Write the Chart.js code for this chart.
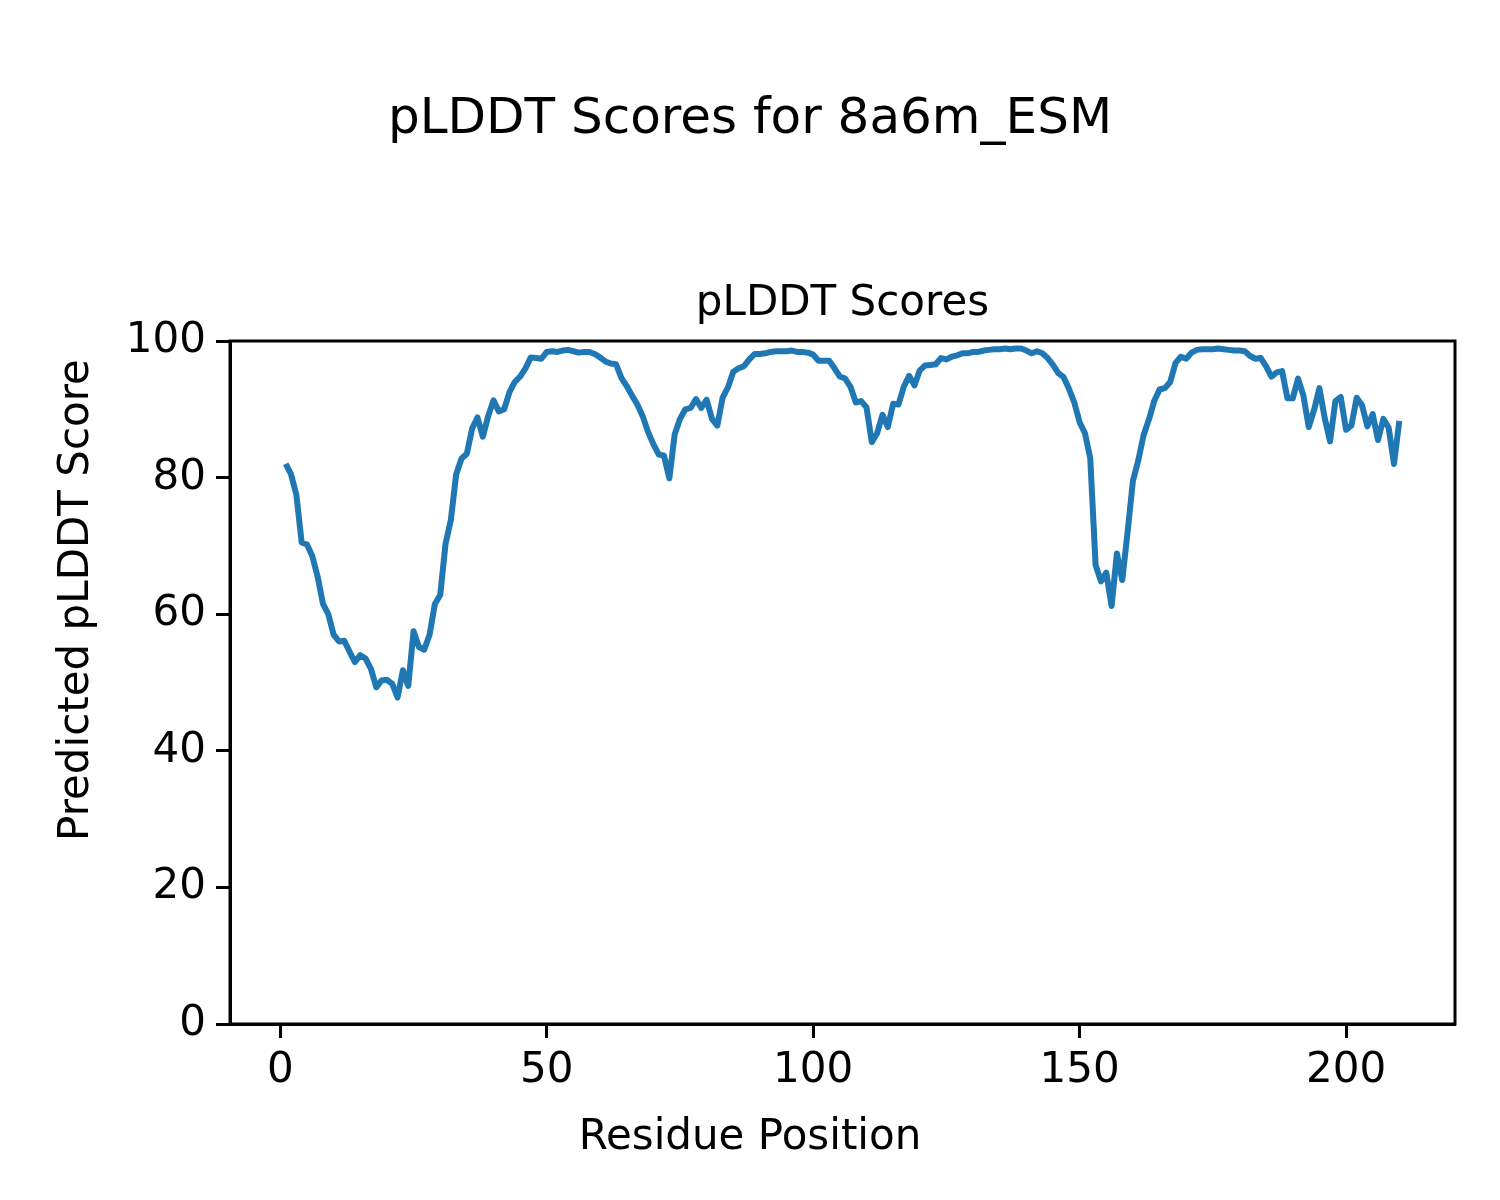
<!DOCTYPE html>
<html>
<head>
<meta charset="utf-8">
<script src="https://cdn.jsdelivr.net/npm/chart.js@4/dist/chart.umd.min.js"></script>
<style>
    html, body { margin: 0; padding: 0; background: #fff; }
    #wrap { width: 1500px; height: 1200px; }
</style>
</head>
<body>
<div id="wrap"><canvas id="chart" width="1500" height="1200"></canvas></div>
<script>
// --------------------------------------------
// pLDDT por resíduo (1..210)
// --------------------------------------------
const scores = [
    82.0, 80.5, 77.5, 70.5, 70.2, 68.5, 65.5, 61.5, 60.0, 57.0,
    56.0, 56.1, 54.5, 53.0, 54.0, 53.5, 52.0, 49.3, 50.3, 50.4,
    49.8, 47.8, 51.8, 49.5, 57.5, 55.2, 54.8, 57.0, 61.5, 62.8,
    70.3, 73.8, 80.5, 82.8, 83.5, 87.2, 88.8, 86.0, 89.0, 91.3,
    89.7, 90.0, 92.5, 94.0, 94.8, 96.0, 97.6, 97.5, 97.4, 98.4,
    98.5, 98.4, 98.6, 98.7, 98.5, 98.3, 98.4, 98.4, 98.1, 97.6,
    97.0, 96.7, 96.6, 94.6, 93.4, 92.0, 90.7, 89.0, 86.7, 84.9,
    83.4, 83.2, 79.9, 86.3, 88.6, 90.0, 90.2, 91.5, 90.2, 91.4,
    88.6, 87.6, 91.7, 93.2, 95.5, 96.0, 96.3, 97.3, 98.1, 98.1,
    98.2, 98.4, 98.5, 98.5, 98.5, 98.6, 98.4, 98.4, 98.3, 98.0,
    97.1, 97.1, 97.1, 96.0, 94.8, 94.5, 93.3, 91.0, 91.2, 90.3,
    85.2, 86.5, 89.2, 87.4, 90.8, 90.7, 93.3, 94.9, 93.5, 95.7,
    96.4, 96.5, 96.6, 97.5, 97.3, 97.7, 97.9, 98.2, 98.2, 98.4,
    98.4, 98.6, 98.7, 98.8, 98.8, 98.9, 98.8, 98.9, 98.9, 98.6,
    98.2, 98.5, 98.2, 97.5, 96.5, 95.3, 94.7, 93.0, 91.0, 88.1,
    86.5, 82.8, 67.2, 64.8, 66.1, 61.2, 68.9, 65.0, 72.0, 79.5,
    82.5, 86.2, 88.5, 91.2, 92.9, 93.1, 94.0, 96.8, 97.7, 97.4,
    98.3, 98.7, 98.8, 98.8, 98.8, 98.9, 98.8, 98.7, 98.6, 98.6,
    98.5, 97.8, 97.4, 97.5, 96.3, 94.8, 95.4, 95.6, 91.6, 91.6,
    94.5, 92.0, 87.4, 89.9, 93.1, 88.7, 85.3, 91.2, 91.8, 87.0,
    87.6, 91.7, 90.6, 87.5, 89.3, 85.5, 88.6, 87.3, 82.0, 88.3
];
const positions = scores.map((_, i) => i + 1);

const xTicks = [0, 50, 100, 150, 200];
const yTicks = [0, 20, 40, 60, 80, 100];

const FONT = 'DejaVu Sans';

// Moldura completa + títulos (estilo matplotlib, rótulos centrados na figura)
const framePlugin = {
    id: 'frame',
    afterDraw(chart) {
        const { ctx, chartArea: a } = chart;
        ctx.save();
        ctx.strokeStyle = '#000';
        ctx.lineWidth = 3;
        ctx.strokeRect(a.left, a.top, a.right - a.left, a.bottom - a.top);

        ctx.fillStyle = '#000';
        ctx.textAlign = 'center';
        ctx.textBaseline = 'middle';
        ctx.font = `42px "${FONT}"`;
        ctx.fillText('pLDDT Scores', (a.left + a.right) / 2, a.top - 37);
        ctx.fillText('Residue Position', chart.width / 2, 1138);

        ctx.save();
        ctx.translate(77, chart.height / 2);
        ctx.rotate(-Math.PI / 2);
        ctx.fillText('Predicted pLDDT Score', 0, 0);
        ctx.restore();

        ctx.font = `50px "${FONT}"`;
        ctx.fillText('pLDDT Scores for 8a6m_ESM', chart.width / 2, 120);
        ctx.restore();
    }
};

new Chart(document.getElementById('chart'), {
    type: 'line',
    data: {
        datasets: [{
            data: positions.map((p, i) => ({ x: p, y: scores[i] })),
            borderColor: '#1f77b4',
            borderWidth: 6,
            borderJoinStyle: 'round',
            borderCapStyle: 'butt',
            pointRadius: 0,
            tension: 0,
            fill: false
        }]
    },
    options: {
        responsive: false,
        animation: false,
        layout: { padding: { top: 341, right: 45, left: 0, bottom: 0 } },
        plugins: {
            legend: { display: false },
            tooltip: { enabled: false }
        },
        scales: {
            x: {
                type: 'linear',
                min: -9.45,
                max: 220.45,
                afterBuildTicks: s => { s.ticks = xTicks.map(v => ({ value: v })); },
                afterFit: s => { s.height = 176; },
                grid: { drawOnChartArea: false, drawTicks: true, tickLength: 14, tickColor: '#000', tickWidth: 3 },
                border: { display: true, color: '#000', width: 3 },
                ticks: { color: '#000', font: { family: FONT, size: 42 }, padding: 8, maxRotation: 0 }
            },
            y: {
                min: 0,
                max: 100,
                afterBuildTicks: s => { s.ticks = yTicks.map(v => ({ value: v })); },
                afterFit: s => { s.width = 230; },
                grid: { drawOnChartArea: false, drawTicks: true, tickLength: 14, tickColor: '#000', tickWidth: 3 },
                border: { display: true, color: '#000', width: 3 },
                ticks: { color: '#000', font: { family: FONT, size: 42 }, padding: 10 }
            }
        }
    },
    plugins: [framePlugin]
});
</script>
</body>
</html>
